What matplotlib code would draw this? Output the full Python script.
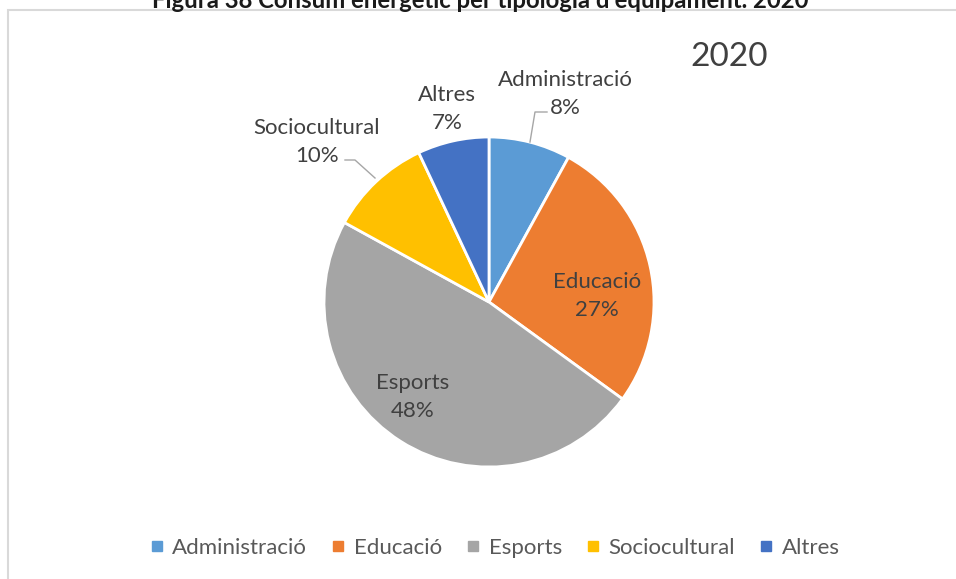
import matplotlib
matplotlib.use("Agg")
import matplotlib.pyplot as plt
from matplotlib.patches import Rectangle
from matplotlib.lines import Line2D

categories = ["Administració", "Educació", "Esports", "Sociocultural", "Altres"]
values = [8, 27, 48, 10, 7]
colors = ["#5B9BD5", "#ED7D31", "#A5A5A5", "#FFC000", "#4472C4"]
title = "Figura 38 Consum energètic per tipologia d'equipament. 2020"
year_label = "2020"

W, H = 956, 579
fig = plt.figure(figsize=(W / 100, H / 100), dpi=100)
plt.rcParams['font.family'] = ['Lato', 'DejaVu Sans']

# chart frame
fig.patches.append(Rectangle((8 / W, -0.5), 1.5, (H - 10) / H + 0.5, transform=fig.transFigure,
                             fill=False, edgecolor="#D9D9D9", linewidth=1.5))
fig.text(480 / W, 1 - 0 / H, title, ha="center", va="center", fontsize=17.2,
         fontweight="bold", color="#1a1a1a")

cx, cy, r = 489, 302, 165
ax = fig.add_axes([(cx - r) / W, (H - cy - r) / H, 2 * r / W, 2 * r / H])
wedges, _ = ax.pie(values, colors=colors, startangle=90, counterclock=False,
                   wedgeprops=dict(edgecolor="white", linewidth=2))
ax.set_xlim(-1, 1)
ax.set_ylim(-1, 1)
ax.axis("off")

txt = "#404040"
fs = 16
def px(x, y):
    return ((x - cx) / r, (cy - y) / r)

label_pos = [(565, 94), (597, 296), (413, 397), (317, 142), (447, 109)]
for name, v, (x, y) in zip(categories, values, label_pos):
    dx, dy = px(x, y)
    ax.text(dx, dy, f"{name}\n{v}%", ha="center", va="center", fontsize=fs,
            color=txt, linespacing=1.55, clip_on=False)

# leader lines
for pts in ([(547, 112), (535, 112), (530, 142)], [(345, 160), (355, 160), (375, 178)]):
    xs, ys = zip(*[px(*p) for p in pts])
    ax.add_line(Line2D(xs, ys, color="#A6A6A6", linewidth=1, clip_on=False))

fig.text(729 / W, 1 - 57 / H, year_label, ha="center", va="center", fontsize=24, color=txt)

handles = [Line2D([], [], marker="s", linestyle="none", markersize=7, color=c) for c in colors]
fig.legend(handles, categories, loc="center", bbox_to_anchor=(495 / W, 1 - 548 / H), ncol=5,
           frameon=False, fontsize=16, labelcolor="#595959", handlelength=0.6,
           handletextpad=0.4, columnspacing=1.1)

fig.savefig("out.png", dpi=100)
